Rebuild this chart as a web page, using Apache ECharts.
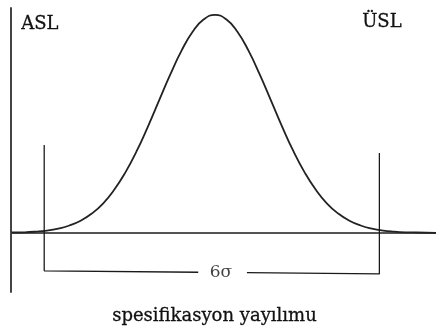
<!DOCTYPE html>
<html>
<head>
<meta charset="utf-8">
<script src="https://cdn.jsdelivr.net/npm/echarts@6/dist/echarts.min.js"></script>
<style>
html,body{margin:0;padding:0;background:#fff;}
#chart{width:436px;height:336px;}
</style>
</head>
<body>
<div id="chart"></div>
<script>
// Bell curve, x in sigma units (mean = 0), y relative to the peak
var curveX = [-3.64, -3.4, -3.2, -3.0, -2.8, -2.6, -2.4, -2.2, -2.0, -1.8, -1.6, -1.4, -1.2, -1.0, -0.8, -0.6, -0.4, -0.2, 0,
              0.2, 0.4, 0.6, 0.8, 1.0, 1.2, 1.4, 1.6, 1.8, 2.0, 2.2, 2.4, 2.6, 2.8, 3.0, 3.2, 3.4, 3.6, 3.95];
var curveY = [0.002, 0.003, 0.006, 0.011, 0.02, 0.034, 0.056, 0.089, 0.135, 0.198, 0.278, 0.375, 0.487, 0.607, 0.726, 0.835, 0.923, 0.980, 1.0,
              0.980, 0.923, 0.835, 0.726, 0.607, 0.487, 0.375, 0.278, 0.198, 0.135, 0.089, 0.056, 0.034, 0.02, 0.011, 0.006, 0.003, 0.002, 0.0005];
// Specification limits and the spread bracket
var limitX = [-3.05, 2.935];
var limitTop = [0.404, 0.367];
var bracketY = [-0.174, -0.188];
var gapX = [-0.30, 0.57];
var labels = { lower: 'ASL', upper: 'ÜSL', spread: '6σ', caption: 'spesifikasyon yayılımu' };

var curve = curveX.map(function (x, i) { return [x, curveY[i]]; });
function bracketYAt(x) {
  var t = (x - limitX[0]) / (limitX[1] - limitX[0]);
  return bracketY[0] + t * (bracketY[1] - bracketY[0]);
}
var bracketLeft = [[limitX[0], limitTop[0]], [limitX[0], bracketY[0]], [gapX[0], bracketYAt(gapX[0])]];
var bracketRight = [[gapX[1], bracketYAt(gapX[1])], [limitX[1], bracketY[1]], [limitX[1], limitTop[1]]];

var chart = echarts.init(document.getElementById('chart'));
var lineCol = '#1a1a1a';
var font = '"DejaVu Serif", "Liberation Serif", serif';
chart.setOption({
  animation: false,
  backgroundColor: '#fff',
  grid: { left: 11, right: 0, top: 8, bottom: 44 },
  xAxis: {
    type: 'value', min: -3.643, max: 3.946,
    axisLine: { show: true, onZero: true, lineStyle: { color: '#555', width: 2 } },
    axisTick: { show: false }, axisLabel: { show: false }, splitLine: { show: false }
  },
  yAxis: {
    type: 'value', min: -0.271, max: 1.032,
    axisLine: { show: true, onZero: false, lineStyle: { color: '#444', width: 2 } },
    axisTick: { show: false }, axisLabel: { show: false }, splitLine: { show: false }
  },
  series: [
    { type: 'line', data: curve, smooth: true, showSymbol: false, symbol: 'none',
      lineStyle: { color: '#222', width: 1.8 } },
    { type: 'line', data: bracketLeft, showSymbol: false, symbol: 'none',
      lineStyle: { color: lineCol, width: 1.3 } },
    { type: 'line', data: bracketRight, showSymbol: false, symbol: 'none',
      lineStyle: { color: lineCol, width: 1.3 } },
    { type: 'scatter', symbolSize: 0,
      data: [[(gapX[0] + gapX[1]) / 2 - 0.03, bracketYAt(0.1)]],
      label: { show: true, position: 'inside', formatter: labels.spread,
        fontFamily: font, fontSize: 17, color: '#111' } }
  ],
  graphic: [
    { type: 'text', left: 21, top: 15, style: { text: labels.lower, font: '18px ' + font, fill: '#111', stroke: '#111', lineWidth: 0.3 } },
    { type: 'text', left: 362, top: 13, style: { text: labels.upper, font: '18px ' + font, fill: '#111', stroke: '#111', lineWidth: 0.3 } },
    { type: 'text', left: 112, top: 307, style: { text: labels.caption, font: '18px ' + font, fill: '#111', stroke: '#111', lineWidth: 0.3 } }
  ]
});
</script>
</body>
</html>
